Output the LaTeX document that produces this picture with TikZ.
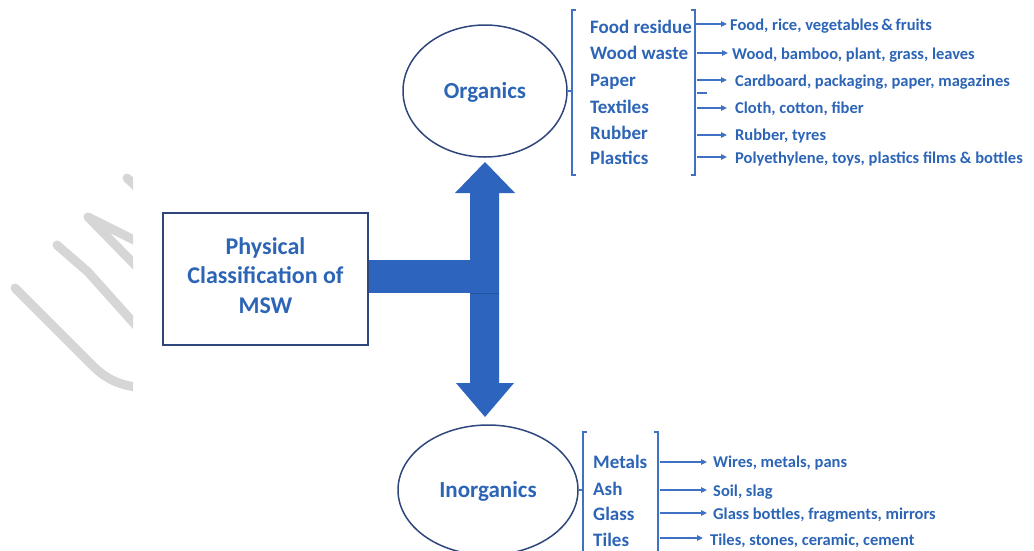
\documentclass[tikz,border=0pt]{standalone}
\usepackage{fontspec}
\setmainfont{Carlito}
\usetikzlibrary{arrows.meta,shapes.geometric}
\definecolor{txtblue}{RGB}{44,100,182}
\definecolor{fillblue}{RGB}{44,100,190}
\definecolor{edgeblue}{RGB}{36,84,160}
\definecolor{lineblue}{RGB}{63,114,196}
\definecolor{navy}{RGB}{47,70,125}
\definecolor{wmgray}{RGB}{214,214,214}
\tikzset{
  lab/.style={font=\fontsize{19}{22}\selectfont\bfseries, text=txtblue, inner sep=0pt, anchor=base west},
  item/.style={font=\fontsize{16.5}{20}\selectfont\bfseries, text=txtblue, inner sep=0pt, anchor=base west},
  itemarrow/.style={draw=lineblue, line width=1.3pt, -{Triangle[length=6pt,width=5.5pt]}},
  bracket/.style={draw=lineblue, line width=1.5pt},
  ell/.style={ellipse, draw=navy, line width=1.5pt, inner sep=0pt, text=txtblue,
    font=\fontsize{23}{26}\selectfont\bfseries, text height=15pt, text depth=1pt},
  wm/.style={draw=wmgray, line width=9pt, line cap=round, line join=round}
}
\begin{document}
\begin{tikzpicture}[x=1pt,y=-1pt]
\useasboundingbox (0,0) rectangle (1034,550);
\begin{scope}
\clip (-10,0) rectangle (133,550);
\draw[wm] (15,288) -- (92,365) .. controls (105,378) and (118,386) .. (145,388);
\draw[wm] (57,245) -- (88,272) -- (140,330);
\draw[wm] (140,270) -- (88,217) -- (140,243);
\draw[wm] (127,178) -- (142,192);
\end{scope}
\begin{scope}
\clip (0,0) rectangle (1034,550);
% main box
\node[draw=navy, line width=1.5pt, minimum width=205pt, minimum height=132pt, inner sep=0pt] (box) at (265.5,279) {};
\node[font=\fontsize{24}{29.5}\selectfont\bfseries, text=txtblue, align=center, inner sep=0pt] (boxtxt) at (265.5,275.5) {Physical\\Classification of\\MSW};
% ellipses
\node[ell, minimum width=164pt, minimum height=132pt] (org) at (485,91) {Organics};
\node[ell, minimum width=180pt, minimum height=130pt] (inorg) at (488,490) {Inorganics};
% T block arrow
\coordinate (tt) at (485,162);
\coordinate (tb) at (485,417);
\fill[fillblue] (box.east |- 0,260) rectangle (499,293);
\fill[fillblue] (470,193) -- (455,193) -- (tt) -- (515,193) -- (499,193) -- (499,383) -- (514,383) -- (tb) -- (456,383) -- (470,383) -- cycle;
\draw[edgeblue, line width=0.8pt] (470,293) -- (499,293);
% top brackets
\coordinate (lb1) at (572,91);
\draw[bracket] (576,10) -- (572,10) -- (572,175) -- (576,175);
\draw[bracket] (691,10) -- (695,10) -- (695,175) -- (691,175);
\draw[bracket] (org.east) -- (lb1);
\draw[lineblue, line width=1.2pt] (697,93) -- (707,93);
% top labels
\node[lab] (fr) at (590,33) {Food residue};
\node[lab] (ww) at (590,59) {Wood waste};
\node[lab] (pa) at (590,86) {Paper};
\node[lab] (te) at (590,113) {Textiles};
\node[lab] (ru) at (590,139) {Rubber};
\node[lab] (pl) at (590,164) {Plastics};
% top items
\node[item] (r1) at (730,30) {Food, rice, vegetables\,\&\,fruits};
\node[item] (r2) at (732,59) {Wood, bamboo, plant, grass, leaves};
\node[item] (r3) at (735,86) {Cardboard, packaging, paper, magazines};
\node[item] (r4) at (735,113) {Cloth, cotton, fiber};
\node[item] (r5) at (735,140) {Rubber, tyres};
\node[item] (r6) at (735,163) {Polyethylene, toys, plastics films \& bottles};
\coordinate (a1) at (695,24);
\coordinate (a2) at (697,53);
\coordinate (a3) at (697,80);
\coordinate (a4) at (697,108);
\coordinate (a5) at (697,135);
\coordinate (a6) at (697,157);
\draw[itemarrow, shorten >=3pt] (a1) -- (a1 -| r1.west);
\draw[itemarrow, shorten >=4pt] (a2) -- (a2 -| r2.west);
\draw[itemarrow, shorten >=8pt] (a3) -- (a3 -| r3.west);
\draw[itemarrow, shorten >=8pt] (a4) -- (a4 -| r4.west);
\draw[itemarrow, shorten >=8pt] (a5) -- (a5 -| r5.west);
\draw[itemarrow, shorten >=8pt] (a6) -- (a6 -| r6.west);
% bottom brackets
\coordinate (lb2) at (583,490);
\draw[bracket] (587,432) -- (583,432) -- (583,560);
\draw[bracket] (654,432) -- (658,432) -- (658,560);
\draw[bracket] (inorg.east) -- (lb2);
% bottom labels
\node[lab] (me) at (593,468) {Metals};
\node[lab] (as) at (593,495) {Ash};
\node[lab] (gl) at (593,520) {Glass};
\node[lab] (ti) at (593,546) {Tiles};
% bottom items
\node[item] (w1) at (713,467) {Wires, metals, pans};
\node[item] (w2) at (713,496) {Soil, slag};
\node[item] (w3) at (713,519) {Glass bottles, fragments, mirrors};
\node[item] (w4) at (710,545) {Tiles, stones, ceramic, cement};
\coordinate (b1) at (660,462);
\coordinate (b2) at (660,490);
\coordinate (b3) at (660,513);
\coordinate (b4) at (660,538);
\draw[itemarrow, shorten >=6pt] (b1) -- (b1 -| w1.west);
\draw[itemarrow, shorten >=6pt] (b2) -- (b2 -| w2.west);
\draw[itemarrow, shorten >=6pt] (b3) -- (b3 -| w3.west);
\draw[itemarrow, shorten >=7pt] (b4) -- (b4 -| w4.west);
\end{scope}
\end{tikzpicture}
\end{document}
